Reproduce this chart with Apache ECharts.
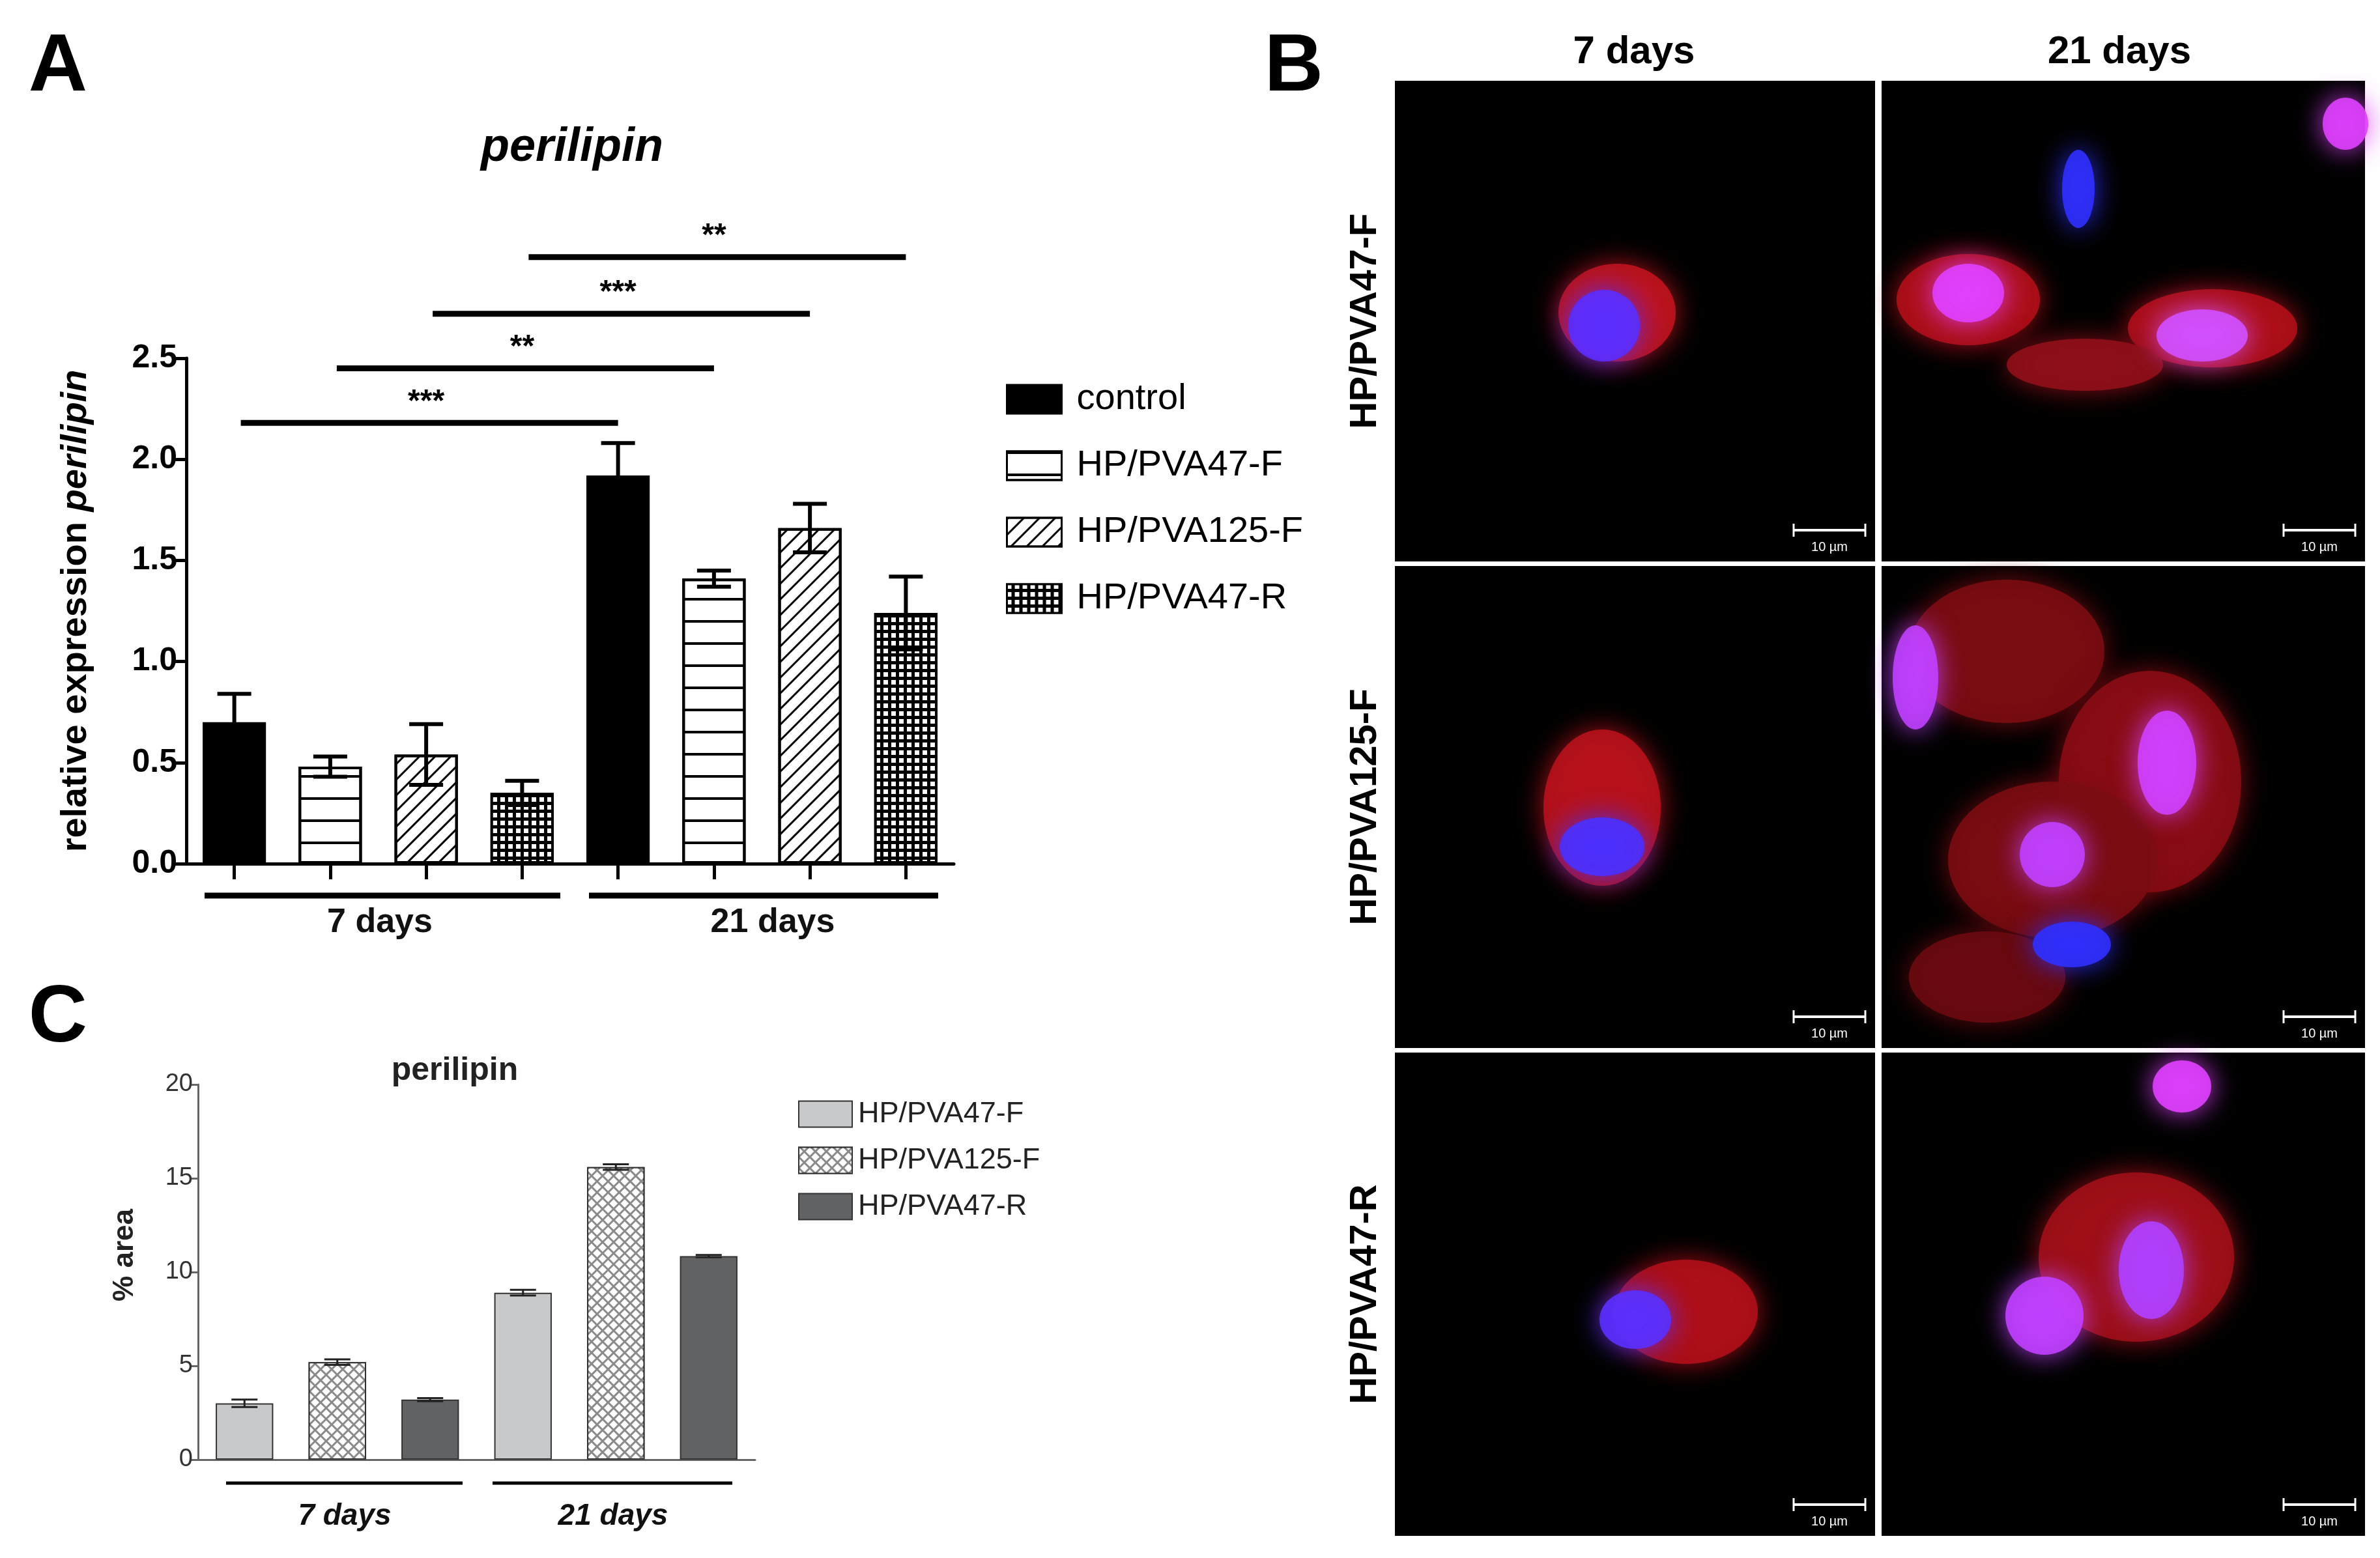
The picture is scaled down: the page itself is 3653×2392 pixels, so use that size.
<!DOCTYPE html>
<html>
<head>
<meta charset="utf-8">
<script src="https://cdn.jsdelivr.net/npm/echarts@6/dist/echarts.min.js"></script>
<style>html,body{margin:0;padding:0;background:#fff}#main{width:3653px;height:2392px}</style>
</head>
<body>
<div id="main"></div>
<script>
// panel A: qPCR relative expression
var groupsA = ['control', 'HP/PVA47-F', 'HP/PVA125-F', 'HP/PVA47-R'];
var meanA7 = [0.70, 0.48, 0.54, 0.35];
var errA7 = [0.14, 0.05, 0.15, 0.06];
var meanA21 = [1.92, 1.41, 1.66, 1.24];
var errA21 = [0.16, 0.04, 0.12, 0.18];
var ticksA = [0, 0.5, 1.0, 1.5, 2.0, 2.5];
// significance: [from category, to category, height, label]
var sigA = [[0, 4, 2.18, '***'], [1, 5, 2.45, '**'], [2, 6, 2.72, '***'], [3, 7, 3.0, '**']];

// panel C: % area
var groupsC = ['HP/PVA47-F', 'HP/PVA125-F', 'HP/PVA47-R'];
var meanC7 = [3.0, 5.2, 3.2];
var errC7 = [0.2, 0.15, 0.08];
var meanC21 = [8.9, 15.6, 10.85];
var errC21 = [0.15, 0.15, 0.06];

var chart = echarts.init(document.getElementById('main'));
var F = 'Liberation Sans, Arial, sans-serif';

var catsA = [], catsC = [];
for (var i = 0; i < 8; i++) catsA.push('a' + i);
for (var i = 0; i < 6; i++) catsC.push('c' + i);

var decalA = [
    null,
    {symbol: 'rect', color: '#000', dashArrayX: [1, 0], dashArrayY: [4, 30], rotation: 0},
    {symbol: 'rect', color: '#000', dashArrayX: [1, 0], dashArrayY: [3, 14], rotation: -Math.PI / 4},
    {symbol: 'rect', color: '#fff', symbolSize: 1, dashArrayX: [[7, 5]], dashArrayY: [7, 5], rotation: 0}
];
var fillA = ['#000', '#fff', '#fff', '#000'];
var fillC = ['#c8c9cb', '#8a8a8a', '#606264'];
var decalC = [null, {symbol: 'rect', color: '#fff', symbolSize: 1, dashArrayX: [[9, 3]], dashArrayY: [9, 3], rotation: Math.PI / 4}, null];

var series = [];
var errDataA = [], errDataC = [];
groupsA.forEach(function (g, k) {
    var d = [];
    for (var i = 0; i < 8; i++) d.push('-');
    d[k] = meanA7[k]; d[4 + k] = meanA21[k];
    errDataA.push([k, meanA7[k], errA7[k]]);
    errDataA.push([4 + k, meanA21[k], errA21[k]]);
    var st = {color: fillA[k], borderColor: '#000', borderWidth: 4};
    if (decalA[k]) st.decal = decalA[k];
    series.push({name: g, type: 'bar', stack: 'A', xAxisIndex: 0, yAxisIndex: 0, barWidth: '66%', data: d, itemStyle: st, silent: true});
});
groupsC.forEach(function (g, k) {
    var d = [];
    for (var i = 0; i < 6; i++) d.push('-');
    d[k] = meanC7[k]; d[3 + k] = meanC21[k];
    errDataC.push([k, meanC7[k], errC7[k]]);
    errDataC.push([3 + k, meanC21[k], errC21[k]]);
    var st = {color: fillC[k], borderColor: '#333', borderWidth: 2};
    if (decalC[k]) st.decal = decalC[k];
    series.push({name: g + ' ', type: 'bar', stack: 'C', xAxisIndex: 1, yAxisIndex: 1, barWidth: '62%', data: d, itemStyle: st, silent: true});
});

function errRender(cap, lw, col) {
    return function (params, api) {
        var x = api.value(0), m = api.value(1), e = api.value(2);
        var top = api.coord([x, m + e]), bot = api.coord([x, m - e]);
        var st = {stroke: col, lineWidth: lw};
        return {type: 'group', children: [
            {type: 'line', shape: {x1: top[0], y1: top[1], x2: bot[0], y2: bot[1]}, style: st},
            {type: 'line', shape: {x1: top[0] - cap, y1: top[1], x2: top[0] + cap, y2: top[1]}, style: st},
            {type: 'line', shape: {x1: bot[0] - cap, y1: bot[1], x2: bot[0] + cap, y2: bot[1]}, style: st}
        ]};
    };
}
series.push({type: 'custom', xAxisIndex: 0, yAxisIndex: 0, data: errDataA, renderItem: errRender(26, 6, '#000'), z: 5, silent: true});
series.push({type: 'custom', xAxisIndex: 1, yAxisIndex: 1, data: errDataC, renderItem: errRender(20, 3, '#222'), z: 5, silent: true});
series.push({
    type: 'custom', xAxisIndex: 0, yAxisIndex: 0, clip: false, silent: true,
    encode: {x: [0, 1], y: 2},
    data: sigA,
    renderItem: function (params, api) {
        var a = api.coord([api.value(0), api.value(2)]);
        var b = api.coord([api.value(1), api.value(2)]);
        return {type: 'group', children: [
            {type: 'line', shape: {x1: a[0] + 10, y1: a[1], x2: b[0], y2: b[1]}, style: {stroke: '#000', lineWidth: 9}},
            {type: 'text', style: {text: sigA[params.dataIndex][3], x: (a[0] + b[0]) / 2, y: a[1] - 8, align: 'center', verticalAlign: 'bottom', font: 'bold 48px ' + F, fill: '#000'}}
        ]};
    }
});

// panel B decoration
var g = [];
var cols = [[2141, 2878], [2888, 3630]];
var rows = [[124, 862], [869, 1609], [1616, 2358]];
rows.forEach(function (r) {
    cols.forEach(function (c) {
        g.push({type: 'rect', shape: {x: c[0], y: r[0], width: c[1] - c[0], height: r[1] - r[0]}, style: {fill: '#000'}});
        g.push({type: 'line', shape: {x1: c[1] - 125, y1: r[1] - 48, x2: c[1] - 15, y2: r[1] - 48}, style: {stroke: '#fff', lineWidth: 4}});
        g.push({type: 'line', shape: {x1: c[1] - 125, y1: r[1] - 58, x2: c[1] - 125, y2: r[1] - 38}, style: {stroke: '#fff', lineWidth: 3}});
        g.push({type: 'line', shape: {x1: c[1] - 15, y1: r[1] - 58, x2: c[1] - 15, y2: r[1] - 38}, style: {stroke: '#fff', lineWidth: 3}});
        g.push({type: 'text', style: {text: '10 µm', x: c[1] - 70, y: r[1] - 32, align: 'center', font: '20px ' + F, fill: '#fff'}});
    });
});
var blobs = [
    [2482, 480, 90, 75, '#c0141e'], [2462, 500, 55, 55, '#5a2dff'],
    [3021, 460, 110, 70, '#b01018'], [3396, 504, 130, 60, '#b01018'], [3200, 560, 120, 40, '#901018'],
    [3021, 450, 55, 45, '#e040ff'], [3380, 515, 70, 40, '#d050ff'], [3190, 290, 25, 60, '#3030ff'], [3600, 190, 35, 40, '#e040ff'],
    [2459, 1240, 90, 120, '#b8121c'], [2459, 1300, 65, 45, '#4a30ff'],
    [3080, 1000, 150, 110, '#7a0c12'], [3300, 1200, 140, 170, '#8a0c14'], [3150, 1320, 160, 120, '#7a0c12'], [3050, 1500, 120, 70, '#6a0a10'],
    [3326, 1171, 45, 80, '#d040ff'], [3150, 1312, 50, 50, '#c040ff'], [2940, 1040, 35, 80, '#c040ff'], [3180, 1450, 60, 35, '#3030ff'],
    [2588, 2014, 110, 80, '#b01018'], [2510, 2026, 55, 45, '#5a30ff'],
    [3279, 1930, 150, 130, '#a01018'], [3138, 2020, 60, 60, '#c040ff'], [3302, 1950, 50, 75, '#b040ff'], [3349, 1668, 45, 40, '#e040ff']
];
blobs.forEach(function (b) {
    g.push({type: 'ellipse', shape: {cx: b[0], cy: b[1], rx: b[2], ry: b[3]}, style: {fill: b[4], shadowBlur: 40, shadowColor: b[4], opacity: 0.9}});
});
g.push({type: 'text', style: {text: '7 days', x: 2508, y: 80, align: 'center', verticalAlign: 'middle', font: 'bold 60px ' + F, fill: '#000'}});
g.push({type: 'text', style: {text: '21 days', x: 3253, y: 80, align: 'center', verticalAlign: 'middle', font: 'bold 60px ' + F, fill: '#000'}});
['HP/PVA47-F', 'HP/PVA125-F', 'HP/PVA47-R'].forEach(function (t, i) {
    g.push({type: 'text', rotation: Math.PI / 2, x: 2096, y: (rows[i][0] + rows[i][1]) / 2,
        style: {text: t, align: 'center', verticalAlign: 'middle', font: 'bold 58px ' + F, fill: '#000'}});
});
// panel letters and titles
g.push({type: 'text', style: {text: 'A', x: 89, y: 105, align: 'center', verticalAlign: 'middle', font: 'bold 125px ' + F, fill: '#000'}});
g.push({type: 'text', style: {text: 'B', x: 1986, y: 105, align: 'center', verticalAlign: 'middle', font: 'bold 125px ' + F, fill: '#000'}});
g.push({type: 'text', style: {text: 'C', x: 89, y: 1565, align: 'center', verticalAlign: 'middle', font: 'bold 125px ' + F, fill: '#000'}});
g.push({type: 'text', style: {text: 'perilipin', x: 878, y: 227, align: 'center', verticalAlign: 'middle', font: 'italic bold 72px ' + F, fill: '#000'}});
g.push({type: 'text', rotation: Math.PI / 2, x: 117, y: 938, style: {rich: {n: {font: 'bold 56px ' + F}, i: {font: 'italic bold 56px ' + F}}, text: '{n|relative expression }{i|perilipin}', align: 'center', verticalAlign: 'middle', fill: '#000'}});
g.push({type: 'text', style: {text: 'perilipin', x: 698, y: 1644, align: 'center', verticalAlign: 'middle', font: 'bold 50px ' + F, fill: '#222'}});
g.push({type: 'text', rotation: Math.PI / 2, x: 192, y: 1927, style: {text: '% area', align: 'center', verticalAlign: 'middle', font: 'bold 44px ' + F, fill: '#222'}});
// group underlines
[[314, 860, 1375, 9, '7 days', 583, 1417, 'bold 52px '], [904, 1440, 1375, 9, '21 days', 1186, 1417, 'bold 52px '],
 [347, 710, 2277, 5, '7 days', 529, 2328, 'italic bold 46px '], [756, 1124, 2277, 5, '21 days', 941, 2328, 'italic bold 46px ']].forEach(function (u) {
    g.push({type: 'line', shape: {x1: u[0], y1: u[2], x2: u[1], y2: u[2]}, style: {stroke: '#000', lineWidth: u[3]}});
    g.push({type: 'text', style: {text: u[4], x: u[5], y: u[6], align: 'center', verticalAlign: 'middle', font: u[7] + F, fill: '#111'}});
});

chart.setOption({
    animation: false,
    backgroundColor: '#fff',
    legend: [
        {data: groupsA, orient: 'vertical', left: 1539, top: 580, icon: 'rect', itemWidth: 84, itemHeight: 44, itemGap: 46,
            itemStyle: {borderColor: '#000', borderWidth: 3},
            textStyle: {fontFamily: F, fontSize: 56, color: '#000', padding: [0, 0, 0, 18]}},
        {data: groupsC.map(function (s) { return s + ' '; }), orient: 'vertical', left: 1220, top: 1683, icon: 'rect', itemWidth: 82, itemHeight: 40, itemGap: 26,
            textStyle: {fontFamily: F, fontSize: 45, color: '#222', padding: [0, 0, 0, 4]}}
    ],
    grid: [
        {left: 286, top: 550, width: 1178, height: 776},
        {left: 304, top: 1665, width: 855, height: 576}
    ],
    xAxis: [
        {type: 'category', gridIndex: 0, data: catsA, axisLine: {lineStyle: {color: '#000', width: 5}},
            axisTick: {show: true, alignWithLabel: true, interval: 0, length: 24, lineStyle: {color: '#000', width: 5}}, axisLabel: {show: false, interval: 0}},
        {type: 'category', gridIndex: 1, data: catsC, axisLine: {lineStyle: {color: '#666', width: 3}},
            axisTick: {show: false}, axisLabel: {show: false}}
    ],
    yAxis: [
        {type: 'value', gridIndex: 0, min: 0, max: 2.5, interval: 0.5, splitLine: {show: false},
            axisLine: {show: true, lineStyle: {color: '#000', width: 5}},
            axisTick: {show: true, inside: false, length: 18, lineStyle: {color: '#000', width: 5}},
            axisLabel: {margin: 14, fontFamily: F, fontWeight: 'bold', fontSize: 50, color: '#000',
                formatter: function (v) { return v.toFixed(1); }}},
        {type: 'value', gridIndex: 1, min: 0, max: 20, interval: 5, splitLine: {show: false},
            axisLine: {show: true, lineStyle: {color: '#666', width: 3}},
            axisTick: {show: true, length: 12, lineStyle: {color: '#666', width: 3}},
            axisLabel: {margin: 8, fontFamily: F, fontSize: 38, color: '#333'}}
    ],
    series: series,
    graphic: g
});
</script>
</body>
</html>
